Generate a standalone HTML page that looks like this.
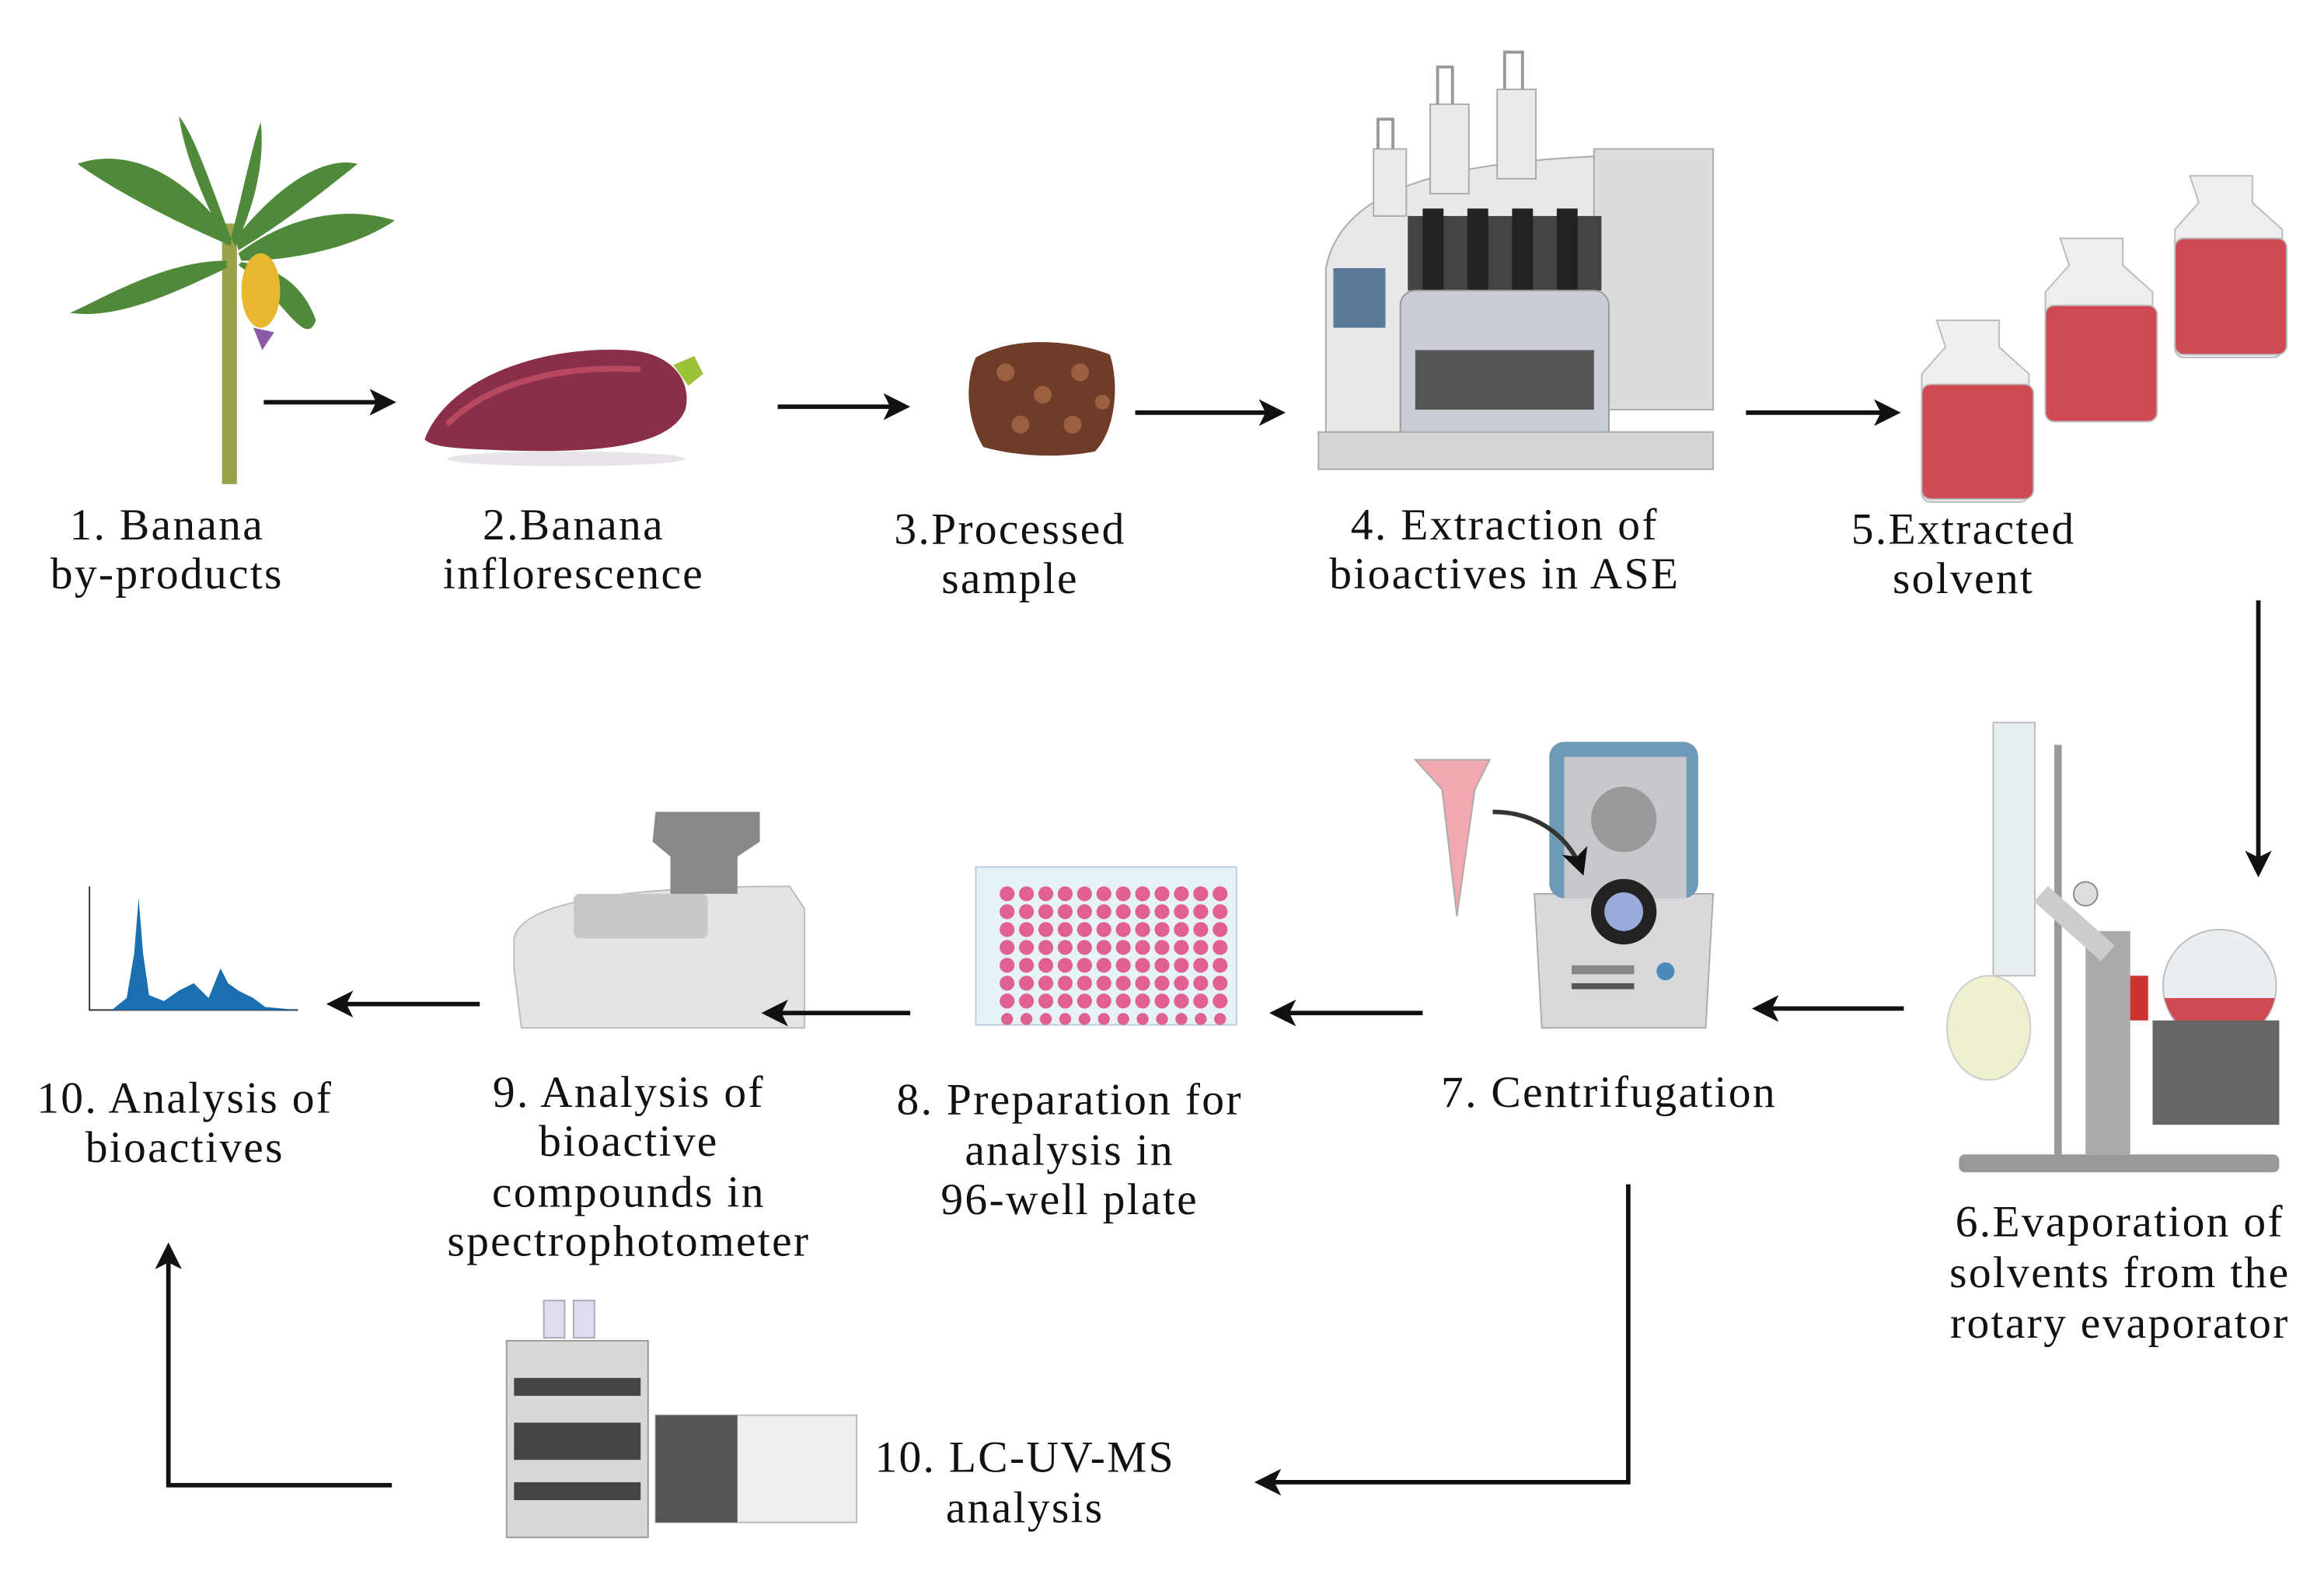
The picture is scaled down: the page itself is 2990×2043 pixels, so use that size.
<!DOCTYPE html>
<html><head><meta charset="utf-8"><style>
html,body{margin:0;padding:0;background:#fff}
svg{display:block}
text{font-family:"Liberation Serif",serif;font-size:30px;fill:#111;text-anchor:middle;letter-spacing:1.2px}
</style></head><body>
<svg width="2990" height="2043" viewBox="0 0 1560 1066" xmlns="http://www.w3.org/2000/svg">
<defs>
<marker id="ah" markerWidth="6" markerHeight="6" refX="5" refY="3" orient="auto" markerUnits="strokeWidth">
<path d="M0,0 L6,3 L0,6 L1.5,3 z" fill="#111"/></marker>
</defs>
<rect width="1560" height="1066" fill="#fff"/>

<!-- 1 banana plant -->
<g>
<rect x="149" y="150" width="10" height="175" fill="#9aa24a"/>
<g fill="#4e8a3a">
<path d="M155,160 C120,110 80,100 52,110 C80,130 120,150 155,165z"/>
<path d="M155,160 C140,120 130,90 120,78 C125,110 140,140 152,165z"/>
<path d="M155,160 C165,120 170,95 175,82 C178,110 170,140 158,165z"/>
<path d="M158,160 C190,120 220,105 240,110 C215,130 190,150 160,168z"/>
<path d="M160,170 C200,140 240,140 265,148 C240,165 200,175 162,175z"/>
<path d="M152,175 C110,175 70,200 47,210 C80,215 120,195 152,180z"/>
<path d="M160,178 C190,200 205,235 212,215 C205,195 190,180 162,176z"/>
</g>
<ellipse cx="175" cy="195" rx="13" ry="25" fill="#e7b830"/>
<path d="M170,220 l6,15 l8,-12z" fill="#8a5aa8"/>
</g>

<!-- 2 inflorescence -->
<g>
<path d="M285,295 C300,255 360,232 420,235 C450,236 465,255 460,275 C450,300 400,305 330,302 C305,301 290,300 285,295z" fill="#8a2f4a"/>
<path d="M300,285 C330,255 380,245 430,248" stroke="#b8485f" stroke-width="4" fill="none"/>
<path d="M452,245 l14,-6 l6,12 l-10,8z" fill="#9cc23a"/>
<ellipse cx="380" cy="308" rx="80" ry="5" fill="#e8e4ea"/>
</g>

<!-- 3 processed sample -->
<g>
<path d="M655,240 C680,225 720,228 745,238 C752,260 748,290 735,303 C710,308 680,306 660,300 C648,280 648,255 655,240z" fill="#6e3c28"/>
<g fill="#9a6040"><circle cx="675" cy="250" r="6"/><circle cx="700" cy="265" r="6"/><circle cx="725" cy="250" r="6"/><circle cx="685" cy="285" r="6"/><circle cx="720" cy="285" r="6"/><circle cx="740" cy="270" r="5"/></g>
</g>

<!-- 4 ASE -->
<g>
<rect x="1070" y="100" width="80" height="175" fill="#dcdcdc" stroke="#aaa"/>
<path d="M890,180 C900,130 960,110 1070,105 L1070,290 L890,290z" fill="#e8e8e8" stroke="#aaa"/>
<rect x="895" y="180" width="35" height="40" fill="#5a7a9a"/>
<rect x="945" y="145" width="130" height="50" fill="#444"/>
<g fill="#222"><rect x="955" y="140" width="14" height="55"/><rect x="985" y="140" width="14" height="55"/><rect x="1015" y="140" width="14" height="55"/><rect x="1045" y="140" width="14" height="55"/></g>
<rect x="940" y="195" width="140" height="105" rx="10" fill="#c8ced4" stroke="#999"/>
<rect x="950" y="235" width="120" height="40" fill="#555"/>
<rect x="885" y="290" width="265" height="25" fill="#d6d6d6" stroke="#aaa"/>
<g fill="#e8eaec" stroke="#aaa"><rect x="922" y="100" width="22" height="45"/><rect x="960" y="70" width="26" height="60"/><rect x="1005" y="60" width="26" height="60"/></g>
<path d="M925,100 v-20 h10 v20 M965,70 v-25 h10 v25 M1010,60 v-25 h12 v25" stroke="#999" fill="none" stroke-width="2"/>
</g>

<!-- 5 bottles -->
<g stroke="#bbb" stroke-width="1">
<path d="M1470,118 h42 v18 l20,18 v80 a6,6 0 0 1 -6,6 h-60 a6,6 0 0 1 -6,-6 v-80 l16,-18z" fill="#eee"/>
<rect x="1460" y="160" width="75" height="78" rx="6" fill="#d04a55"/>
<path d="M1383,160 h42 v18 l20,18 v80 a6,6 0 0 1 -6,6 h-60 a6,6 0 0 1 -6,-6 v-80 l16,-18z" fill="#eee"/>
<rect x="1373" y="205" width="75" height="78" rx="6" fill="#d04a55"/>
<path d="M1300,215 h42 v18 l20,18 v80 a6,6 0 0 1 -6,6 h-60 a6,6 0 0 1 -6,-6 v-80 l16,-18z" fill="#eee"/>
<rect x="1290" y="258" width="75" height="77" rx="6" fill="#d04a55"/>
</g>

<!-- 6 rotary evaporator -->
<g>
<rect x="1338" y="485" width="28" height="170" fill="#e6eef2" stroke="#bbb"/>
<rect x="1379" y="500" width="5" height="280" fill="#999"/>
<rect x="1400" y="625" width="30" height="150" fill="#aaa"/>
<path d="M1370,600 L1415,640" stroke="#ccc" stroke-width="14"/>
<rect x="1430" y="655" width="12" height="30" fill="#c33"/>
<circle cx="1490" cy="662" r="38" fill="#e8eef2" stroke="#bbb"/>
<path d="M1453,670 h74 a38,38 0 0 1 -74,0z" fill="#d04a55"/>
<rect x="1445" y="685" width="85" height="70" fill="#666"/>
<ellipse cx="1335" cy="690" rx="28" ry="35" fill="#eef0d0" stroke="#ccc"/>
<rect x="1315" y="775" width="215" height="12" rx="4" fill="#999"/>
<circle cx="1400" cy="600" r="8" fill="#ddd" stroke="#888"/>
</g>

<!-- 7 centrifuge -->
<g>
<path d="M1035,690 L1030,600 L1150,600 L1145,690z" fill="#d9d9dc" stroke="#aaa"/>
<rect x="1040" y="498" width="100" height="105" rx="10" fill="#6e9ab8"/>
<rect x="1050" y="508" width="82" height="95" fill="#c8c8cc"/>
<circle cx="1090" cy="550" r="22" fill="#999"/>
<circle cx="1090" cy="612" r="22" fill="#222"/>
<circle cx="1090" cy="612" r="13" fill="#9ad" />
<rect x="1055" y="648" width="42" height="6" fill="#888"/>
<rect x="1055" y="660" width="42" height="4" fill="#555"/>
<circle cx="1118" cy="652" r="6" fill="#4a8ab8"/>
<path d="M950,510 h50 l-10,20 l-12,85 l-10,-85z" fill="#f2a8b0" stroke="#aaa"/>
<path d="M1002,545 C1035,545 1055,565 1062,585" stroke="#333" stroke-width="3" fill="none" marker-end="url(#ah)"/>
</g>

<!-- 8 plate -->
<rect x="655" y="582" width="175" height="106" fill="#e6f2f6" stroke="#bcd"/>

<!-- 9 spectrophotometer -->
<g>
<path d="M345,650 L345,630 C350,605 420,595 530,595 L540,610 L540,690 L350,690z" fill="#e4e4e4" stroke="#bbb"/>
<rect x="385" y="600" width="90" height="30" rx="4" fill="#c8c8c8"/>
<path d="M440,545 h70 v20 l-15,10 v25 h-45 v-25 l-12,-10z" fill="#888"/>
</g>

<!-- 10 chromatogram -->
<g>
<path d="M60,595 V678 H200" stroke="#333" stroke-width="1" fill="none"/>
<path d="M75,678 L85,670 L90,640 L93,603 L96,640 L100,668 L110,672 L120,665 L130,660 L140,670 L148,650 L153,660 L160,665 L170,670 L178,676 L200,678z" fill="#1a6fb0"/>
</g>

<!-- LC-UV-MS -->
<g>
<rect x="340" y="900" width="95" height="132" fill="#d8d8d8" stroke="#999"/>
<g fill="#444"><rect x="345" y="925" width="85" height="12"/><rect x="345" y="955" width="85" height="25"/><rect x="345" y="995" width="85" height="12"/></g>
<rect x="440" y="950" width="135" height="72" fill="#eee" stroke="#bbb"/>
<rect x="440" y="950" width="55" height="72" fill="#555"/>
<g fill="#dde" stroke="#aab"><rect x="365" y="873" width="14" height="25"/><rect x="385" y="873" width="14" height="25"/></g>
</g>

<!-- arrows -->
<g stroke="#111" stroke-width="3" fill="none" marker-end="url(#ah)">
<line x1="177" y1="270" x2="263" y2="270"/>
<line x1="522" y1="273" x2="608" y2="273"/>
<line x1="762" y1="277" x2="860" y2="277"/>
<line x1="1172" y1="277" x2="1273" y2="277"/>
<line x1="1516" y1="403" x2="1516" y2="586"/>
<line x1="1278" y1="677" x2="1179" y2="677"/>
<line x1="955" y1="680" x2="855" y2="680"/>
<line x1="611" y1="680" x2="514" y2="680"/>
<line x1="322" y1="674" x2="222" y2="674"/>
<polyline points="1093,795 1093,995 845,995"/>
<polyline points="263,997 113,997 113,837"/>
</g>

<!-- labels -->
<text x="112" y="362">1. Banana</text><text x="112" y="395">by-products</text>
<text x="385" y="362">2.Banana</text><text x="385" y="395">inflorescence</text>
<text x="678" y="365">3.Processed</text><text x="678" y="398">sample</text>
<text x="1010" y="362">4. Extraction of</text><text x="1010" y="395">bioactives in ASE</text>
<text x="1318" y="365">5.Extracted</text><text x="1318" y="398">solvent</text>
<text x="1080" y="743">7. Centrifugation</text>
<text x="718" y="748">8. Preparation for</text><text x="718" y="782">analysis in</text><text x="718" y="815">96-well plate</text>
<text x="422" y="743">9. Analysis of</text><text x="422" y="776">bioactive</text><text x="422" y="810">compounds in</text><text x="422" y="843">spectrophotometer</text>
<text x="124" y="747">10. Analysis of</text><text x="124" y="780">bioactives</text>
<text x="1423" y="830">6.Evaporation of</text><text x="1423" y="864">solvents from the</text><text x="1423" y="898">rotary evaporator</text>
<text x="688" y="988">10. LC-UV-MS</text><text x="688" y="1022">analysis</text>

<g fill="#e0608f">
<circle cx="676" cy="600" r="5"/><circle cx="689" cy="600" r="5"/><circle cx="702" cy="600" r="5"/><circle cx="715" cy="600" r="5"/><circle cx="728" cy="600" r="5"/><circle cx="741" cy="600" r="5"/><circle cx="754" cy="600" r="5"/><circle cx="767" cy="600" r="5"/><circle cx="780" cy="600" r="5"/><circle cx="793" cy="600" r="5"/><circle cx="806" cy="600" r="5"/><circle cx="819" cy="600" r="5"/>
<circle cx="676" cy="612" r="5"/><circle cx="689" cy="612" r="5"/><circle cx="702" cy="612" r="5"/><circle cx="715" cy="612" r="5"/><circle cx="728" cy="612" r="5"/><circle cx="741" cy="612" r="5"/><circle cx="754" cy="612" r="5"/><circle cx="767" cy="612" r="5"/><circle cx="780" cy="612" r="5"/><circle cx="793" cy="612" r="5"/><circle cx="806" cy="612" r="5"/><circle cx="819" cy="612" r="5"/>
<circle cx="676" cy="624" r="5"/><circle cx="689" cy="624" r="5"/><circle cx="702" cy="624" r="5"/><circle cx="715" cy="624" r="5"/><circle cx="728" cy="624" r="5"/><circle cx="741" cy="624" r="5"/><circle cx="754" cy="624" r="5"/><circle cx="767" cy="624" r="5"/><circle cx="780" cy="624" r="5"/><circle cx="793" cy="624" r="5"/><circle cx="806" cy="624" r="5"/><circle cx="819" cy="624" r="5"/>
<circle cx="676" cy="636" r="5"/><circle cx="689" cy="636" r="5"/><circle cx="702" cy="636" r="5"/><circle cx="715" cy="636" r="5"/><circle cx="728" cy="636" r="5"/><circle cx="741" cy="636" r="5"/><circle cx="754" cy="636" r="5"/><circle cx="767" cy="636" r="5"/><circle cx="780" cy="636" r="5"/><circle cx="793" cy="636" r="5"/><circle cx="806" cy="636" r="5"/><circle cx="819" cy="636" r="5"/>
<circle cx="676" cy="648" r="5"/><circle cx="689" cy="648" r="5"/><circle cx="702" cy="648" r="5"/><circle cx="715" cy="648" r="5"/><circle cx="728" cy="648" r="5"/><circle cx="741" cy="648" r="5"/><circle cx="754" cy="648" r="5"/><circle cx="767" cy="648" r="5"/><circle cx="780" cy="648" r="5"/><circle cx="793" cy="648" r="5"/><circle cx="806" cy="648" r="5"/><circle cx="819" cy="648" r="5"/>
<circle cx="676" cy="660" r="5"/><circle cx="689" cy="660" r="5"/><circle cx="702" cy="660" r="5"/><circle cx="715" cy="660" r="5"/><circle cx="728" cy="660" r="5"/><circle cx="741" cy="660" r="5"/><circle cx="754" cy="660" r="5"/><circle cx="767" cy="660" r="5"/><circle cx="780" cy="660" r="5"/><circle cx="793" cy="660" r="5"/><circle cx="806" cy="660" r="5"/><circle cx="819" cy="660" r="5"/>
<circle cx="676" cy="672" r="5"/><circle cx="689" cy="672" r="5"/><circle cx="702" cy="672" r="5"/><circle cx="715" cy="672" r="5"/><circle cx="728" cy="672" r="5"/><circle cx="741" cy="672" r="5"/><circle cx="754" cy="672" r="5"/><circle cx="767" cy="672" r="5"/><circle cx="780" cy="672" r="5"/><circle cx="793" cy="672" r="5"/><circle cx="806" cy="672" r="5"/><circle cx="819" cy="672" r="5"/>
<circle cx="676" cy="684" r="4"/><circle cx="689" cy="684" r="4"/><circle cx="702" cy="684" r="4"/><circle cx="715" cy="684" r="4"/><circle cx="728" cy="684" r="4"/><circle cx="741" cy="684" r="4"/><circle cx="754" cy="684" r="4"/><circle cx="767" cy="684" r="4"/><circle cx="780" cy="684" r="4"/><circle cx="793" cy="684" r="4"/><circle cx="806" cy="684" r="4"/><circle cx="819" cy="684" r="4"/>
</g>
</svg>
</body></html>
